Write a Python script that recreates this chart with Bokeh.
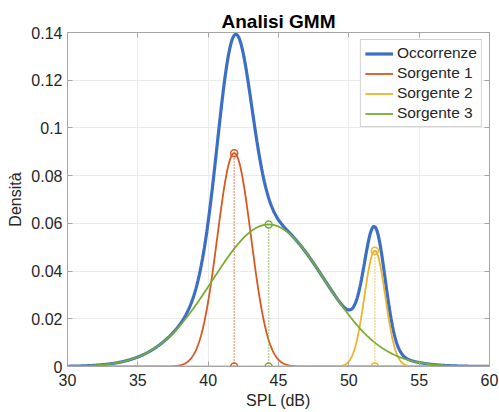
import numpy as np
from bokeh.plotting import figure
from bokeh.models import Legend, LegendItem, LinearAxis, Range1d, FixedTicker
from bokeh.embed import file_html
from bokeh.resources import INLINE

# ---- data ----
series_names = ["Occorrenze", "Sorgente 1", "Sorgente 2", "Sorgente 3"]
series_colors = ["#3D6EC6", "#D9581F", "#EBB52A", "#78AC35"]
# Gaussian mixture components (Sorgente 1, 2, 3)
comp_means = [41.85, 51.85, 44.3]
comp_sigmas = [1.2, 0.74, 4.0]
comp_weights = [0.269, 0.090, 0.597]
x_ticks = [30, 35, 40, 45, 50, 55, 60]
y_ticks = [0, 0.02, 0.04, 0.06, 0.08, 0.10, 0.12, 0.14]
y_tick_labels = ["0", "0.02", "0.04", "0.06", "0.08", "0.1", "0.12", "0.14"]

FONT = "Liberation Sans"
AXC = "#a6a6a6"
TXT = "#262626"

x = np.linspace(30, 60, 901)


def comp_pdf(xx, m, s, w):
    return w * np.exp(-0.5 * ((xx - m) / s) ** 2) / (s * np.sqrt(2 * np.pi))


comps = [comp_pdf(x, m, s, w) for m, s, w in zip(comp_means, comp_sigmas, comp_weights)]
total = np.sum(comps, axis=0)
peaks = [comp_pdf(np.array(m), m, s, w) for m, s, w in zip(comp_means, comp_sigmas, comp_weights)]

p = figure(width=499, height=412, output_backend="svg", toolbar_location=None,
           x_range=Range1d(30, 60), y_range=Range1d(0, 0.14),
           min_border_left=67, min_border_right=10, min_border_top=32, min_border_bottom=46)

p.title.text = "Analisi GMM"
p.title.align = "center"
p.title.text_font = FONT
p.title.text_font_size = "19px"
p.title.text_font_style = "bold"
p.title.text_color = "#000000"
p.title.standoff = 2

p.background_fill_color = "white"
p.outline_line_color = AXC
p.outline_line_width = 1

for ax in (p.xaxis[0], p.yaxis[0]):
    ax.major_label_text_font = FONT
    ax.major_label_text_font_size = "16px"
    ax.major_label_text_color = TXT
    ax.axis_label_text_font = FONT
    ax.axis_label_text_font_size = "16px"
    ax.axis_label_text_font_style = "normal"
    ax.axis_label_text_color = TXT
    ax.axis_line_color = AXC
    ax.major_tick_line_color = AXC
    ax.major_tick_in = 5
    ax.major_tick_out = 0
    ax.minor_tick_line_color = None

p.xaxis[0].ticker = FixedTicker(ticks=x_ticks)
p.yaxis[0].ticker = FixedTicker(ticks=y_ticks)
p.yaxis[0].major_label_overrides = {t: l for t, l in zip(y_ticks, y_tick_labels)}
p.xaxis[0].axis_label = "SPL (dB)"
p.yaxis[0].axis_label = "Densità"
p.xaxis[0].major_label_standoff = 7
p.xaxis[0].axis_label_standoff = 3
p.yaxis[0].major_label_standoff = 5
p.yaxis[0].axis_label_standoff = 4

# inward ticks on the top and right edges (box on), without labels
for loc, tk in (("above", x_ticks), ("right", y_ticks)):
    a = LinearAxis(ticker=FixedTicker(ticks=tk),
                   major_label_overrides={t: "" for t in tk},
                   major_label_standoff=0, axis_line_color=AXC, major_tick_line_color=AXC,
                   major_tick_in=5, major_tick_out=0, minor_tick_line_color=None)
    p.add_layout(a, loc)

p.xgrid.ticker = FixedTicker(ticks=x_ticks)
p.ygrid.ticker = FixedTicker(ticks=y_ticks)
p.xgrid.grid_line_color = "#ebebeb"
p.ygrid.grid_line_color = "#ebebeb"

renderers = []
r = p.line(x, total, line_color=series_colors[0], line_width=3.2)
renderers.append(r)
for i, c in enumerate(comps):
    r = p.line(x, c, line_color=series_colors[i + 1], line_width=1.8)
    renderers.append(r)

for i in range(3):
    col = series_colors[i + 1]
    m = comp_means[i]
    pk = float(peaks[i])
    p.segment(x0=[m], y0=[0], x1=[m], y1=[pk], line_color=col, line_width=1.5, line_dash="1 2")
    p.scatter(x=[m, m], y=[0, pk], marker="circle", size=7, line_color=col, line_width=1.5,
              fill_alpha=0)

legend = Legend(items=[LegendItem(label=n, renderers=[r]) for n, r in zip(series_names, renderers)],
                location="top_right")
legend.label_text_font = FONT
legend.label_text_font_size = "15.5px"
legend.label_text_color = TXT
legend.glyph_width = 28
legend.glyph_height = 17
legend.label_height = 17
legend.label_standoff = 4
legend.spacing = 2
legend.padding = 4
legend.margin = 7
legend.border_line_color = AXC
legend.border_line_width = 1
legend.background_fill_alpha = 1
p.add_layout(legend)

open("out.html", "w").write(file_html(p, INLINE))
